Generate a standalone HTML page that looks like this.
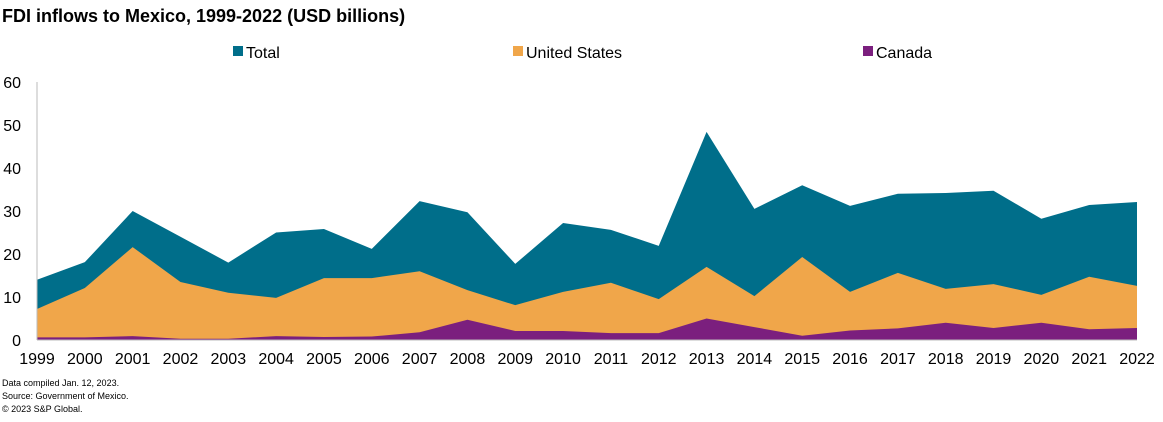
<!DOCTYPE html>
<html><head><meta charset="utf-8"><style>
body{margin:0;background:#fff;font-family:"Liberation Sans",sans-serif;}
</style></head><body>
<svg width="1163" height="417" xmlns="http://www.w3.org/2000/svg" font-family="Liberation Sans, sans-serif">
<text x="2" y="22" font-size="18" font-weight="bold" fill="#000">FDI inflows  to Mexico, 1999-2022 (USD billions)</text>
<g id="legend"></g>
<g id="plot"></g>
<text x="2" y="386" font-size="9">Data compiled Jan. 12, 2023.</text>
<text x="2" y="399" font-size="9">Source: Government of Mexico.</text>
<text x="2" y="412" font-size="9">© 2023 S&amp;P Global.</text>
</svg>
<script>
const years=[1999,2000,2001,2002,2003,2004,2005,2006,2007,2008,2009,2010,2011,2012,2013,2014,2015,2016,2017,2018,2019,2020,2021,2022];
const total=[14,18.1,30,24,18,25,25.8,21.2,32.3,29.7,17.7,27.2,25.6,21.9,48.4,30.5,36,31.2,34,34.2,34.7,28.2,31.4,32.1];
const us=[7.2,12.1,21.6,13.5,11,9.8,14.4,14.4,16,11.6,8.1,11.2,13.3,9.5,17,10.2,19.3,11.2,15.6,11.9,13,10.5,14.7,12.6];
const canada=[0.6,0.6,0.9,0.3,0.3,0.9,0.7,0.8,1.8,4.7,2.1,2.1,1.6,1.6,5,3,1,2.2,2.7,4,2.8,4,2.5,2.8];
const yTicks=[0,10,20,30,40,50,60];
const series=[["Total",total,"#006e8a"],["United States",us,"#f0a64a"],["Canada",canada,"#7b1f7e"]];
const NS="http://www.w3.org/2000/svg";
const x0=37,x1=1137,yb=340,yt=82;
const xs=i=>x0+(x1-x0)*i/(years.length-1);
const ys=v=>yb-(yb-yt)*v/60;
const plot=document.getElementById('plot');
function mk(t,a,p){const e=document.createElementNS(NS,t);for(const k in a)e.setAttribute(k,a[k]);p.appendChild(e);return e;}
series.forEach(([name,vals,col])=>{
 let d=`M${xs(0)},${yb}`;vals.forEach((v,i)=>d+=` L${xs(i)},${ys(v)}`);d+=` L${xs(vals.length-1)},${yb} Z`;
 const p=mk('path',{d,fill:col},plot);
 
 
});
const ax=mk('line',{x1:x0,y1:yt,x2:x0,y2:yb,stroke:'#bbb','stroke-width':1},plot);


const bx=mk('line',{x1:x0,y1:yb,x2:x1,y2:yb,stroke:'#bbb','stroke-width':1},plot);


yTicks.forEach(v=>{const t=mk('text',{x:21,y:ys(v)+6,'font-size':16,'text-anchor':'end',fill:'#000'},plot);t.textContent=v;
 
 });
years.forEach((y,i)=>{const t=mk('text',{x:xs(i),y:364,'font-size':16,'text-anchor':'middle',fill:'#000'},plot);t.textContent=y;
 
 });
const lg=document.getElementById('legend');
const lx=[233,513,863];
series.forEach(([name,vals,col],i)=>{
 const r=mk('rect',{x:lx[i],y:46,width:10,height:10,fill:col},lg);
 
 
 const t=mk('text',{x:lx[i]+13,y:58,'font-size':16,fill:'#000'},lg);t.textContent=name;
 
 
});
</script>
</body></html>
